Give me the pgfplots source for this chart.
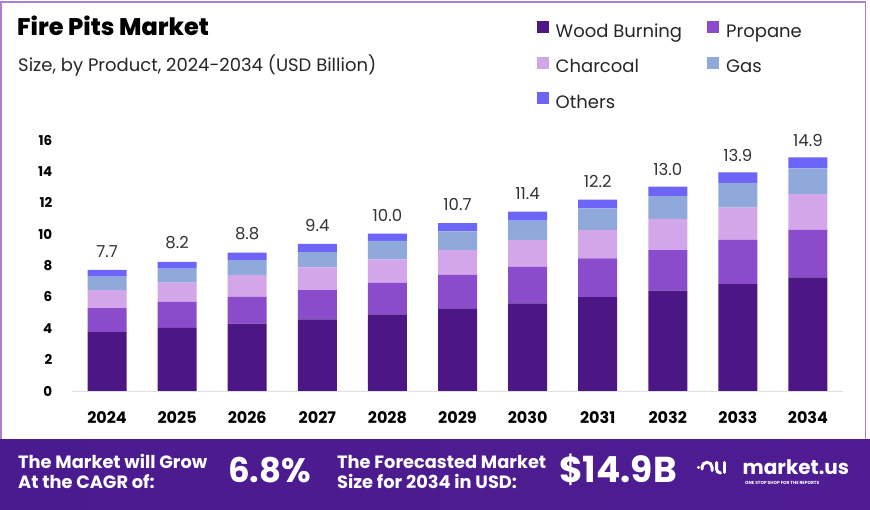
\documentclass[border=0pt]{standalone}
\usepackage{pgfplots}
\pgfplotsset{compat=1.18}
\usepackage{pgfplotstable}
\usepackage{fontspec}
\setmainfont{Poppins}
\newfontfamily\titlefont{Poppins ExtraBold}

\definecolor{wood}{HTML}{4C1785}
\definecolor{propane}{HTML}{8A4CCB}
\definecolor{charcoal}{HTML}{D3A6EA}
\definecolor{gas}{HTML}{8FA9DB}
\definecolor{others}{HTML}{6D65F7}
\definecolor{bannerL}{HTML}{4A1B8E}
\definecolor{bannerM}{HTML}{A526CB}
\definecolor{bannerR}{HTML}{4F1C93}
\definecolor{frameclr}{HTML}{A97FD4}
\definecolor{valclr}{HTML}{333333}

\pgfplotstableread{
x wood propane charcoal gas others total
0 3.76 1.53 1.15 0.85 0.43 7.7
1 4.02 1.66 1.23 0.89 0.43 8.2
2 4.29 1.72 1.39 0.95 0.47 8.8
3 4.57 1.87 1.45 0.97 0.52 9.4
4 4.89 2.00 1.51 1.17 0.46 10.0
5 5.23 2.17 1.59 1.19 0.53 10.7
6 5.59 2.32 1.72 1.23 0.58 11.4
7 5.99 2.47 1.81 1.38 0.56 12.2
8 6.40 2.59 1.98 1.45 0.62 13.0
9 6.82 2.81 2.07 1.58 0.67 13.9
10 7.25 3.02 2.29 1.64 0.70 14.9
}\datatable

\begin{document}
\begin{tikzpicture}
\fill[white] (0pt,0pt) rectangle (870pt,510pt);
% banner
\shade[left color=bannerL, middle color=bannerM, right color=bannerR] (0pt,0pt) rectangle (870pt,70.5pt);
% frame
\draw[frameclr, line width=1.5pt] (0.75pt,70.5pt) -- (0.75pt,508pt) -- (865.5pt,508pt) -- (865.5pt,70.5pt);

% titles
\node[anchor=base west, inner sep=0pt, font=\titlefont\fontsize{24}{28}\selectfont] at (17pt,474pt) {Fire Pits Market};
\node[anchor=base west, inner sep=0pt, text=black!85, font=\fontsize{18}{21}\selectfont] at (18pt,438.3pt) {Size, by Product, 2024-2034 (USD Billion)};

\begin{axis}[
  at={(72pt,119pt)}, anchor=south west,
  scale only axis, width=771pt, height=258.72pt,
  xmin=-0.5, xmax=10.5, ymin=0, ymax=16.5,
  enlargelimits=false, clip=false,
  ybar stacked, bar width=39pt,
  axis line style={draw=none},
  major tick length=0pt, tick style={draw=none},
  ytick={0,2,4,6,8,10,12,14,16},
  extra y ticks={0}, extra y tick labels={},
  extra y tick style={grid=major, major grid style={draw=black!12, line width=0.8pt}},
  xtick={0,1,2,3,4,5,6,7,8,9,10},
  xticklabels={2024,2025,2026,2027,2028,2029,2030,2031,2032,2033,2034},
  /pgf/number format/assume math mode=true,
  yticklabel style={font=\bfseries\fontsize{13.5}{15}\selectfont, anchor=east, inner sep=0pt, xshift=-19.5pt, text=black},
  xticklabel style={font=\bfseries\fontsize{16}{18}\selectfont, anchor=north, inner sep=0pt, yshift=-20.7pt, text=black},
  legend style={at={(axis description cs:0.6027,1.429)}, anchor=north west,
    draw=none, fill=none, inner sep=0pt, outer sep=0pt,
    legend columns=2, row sep=15.5pt,
    font=\fontsize{18}{21}\selectfont, text=black!85,
    nodes={inner sep=0pt, text height=12pt, text depth=4pt},
    /tikz/every even column/.append style={column sep=25pt},
    /tikz/every odd column/.append style={column sep=7pt}},
  legend cell align=left,
  legend image code/.code={\fill[#1, draw=none] (0pt,0pt) rectangle (12pt,12pt);},
]
\addplot[fill=wood, draw=none] table[x=x, y=wood] {\datatable};
\addlegendentry{Wood Burning}
\addplot[fill=propane, draw=none] table[x=x, y=propane] {\datatable};
\addlegendentry{Propane}
\addplot[fill=charcoal, draw=none] table[x=x, y=charcoal] {\datatable};
\addlegendentry{Charcoal}
\addplot[fill=gas, draw=none] table[x=x, y=gas] {\datatable};
\addlegendentry{Gas}
\addplot[fill=others, draw=none, point meta=explicit,
  nodes near coords={\pgfmathprintnumber[fixed,fixed zerofill,precision=1]{\pgfplotspointmeta}},
  every node near coord/.append style={anchor=south, inner sep=0pt, yshift=16pt, text=valclr, font=\fontsize{16.5}{18}\selectfont}]
  table[x=x, y=others, meta=total] {\datatable};
\addlegendentry{Others}
\end{axis}

% banner text
\begin{scope}[every node/.style={text=white, inner sep=0pt, anchor=base west}]
\node[font=\bfseries\fontsize{17.8}{20}\selectfont] at (18pt,41.7pt) {The Market will Grow};
\node[font=\bfseries\fontsize{17.8}{20}\selectfont] at (18pt,21pt) {At the CAGR of:};
\node[font=\bfseries\fontsize{34}{38}\selectfont] at (228pt,27.3pt) {6.8\%};
\node[font=\bfseries\fontsize{17.8}{20}\selectfont] at (337pt,41.7pt) {The Forecasted Market};
\node[font=\bfseries\fontsize{17.8}{20}\selectfont] at (337pt,21pt) {Size for 2034 in USD:};
\node[font=\bfseries\fontsize{36}{40}\selectfont] at (559pt,27.3pt) {\$14.9B};
\node[font=\bfseries\fontsize{20}{23}\selectfont] at (742.5pt,35pt) {market.us};
\node[font=\bfseries\fontsize{4.4}{5}\selectfont] at (745pt,25pt) {ONE STOP SHOP FOR THE REPORTS};
\end{scope}
% logo icon
\begin{scope}[white, line width=3pt, line cap=round]
\fill (698.5pt,42.5pt) circle (1.7pt);
\draw (702pt,41pt) -- (702pt,42.7pt) arc (180:0:5pt) -- (712pt,39.5pt);
\draw (716.5pt,47.5pt) -- (716.5pt,41pt) arc (180:270:4pt);
\draw (724.5pt,47.5pt) -- (724.5pt,37.5pt);
\end{scope}
\end{tikzpicture}
\end{document}
